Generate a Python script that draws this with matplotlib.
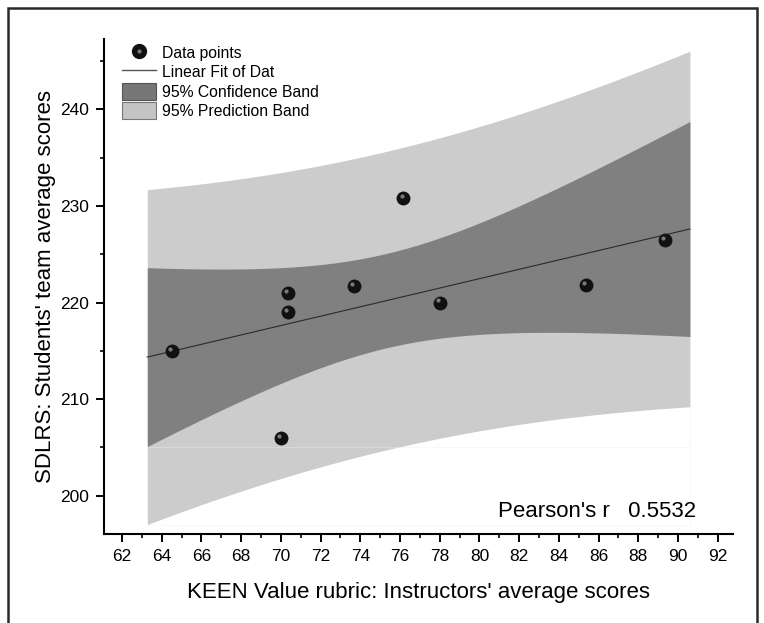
import matplotlib.pyplot as plt
import numpy as np
from matplotlib.lines import Line2D
from matplotlib.patches import Patch, Rectangle
from matplotlib.ticker import MultipleLocator
from matplotlib.transforms import offset_copy

plt.rcParams['font.family'] = ['Liberation Sans', 'DejaVu Sans']

# KEEN rubric (instructors) vs SDLRS (students' team) averages
keen_scores = np.array([64.5, 70.0, 70.34, 70.34, 73.67, 76.16, 78.01, 85.35, 89.34])
sdlrs_scores = np.array([215.0, 206.0, 219.0, 221.0, 221.7, 230.8, 220.0, 221.8, 226.5])
pearson_r = 0.5532

# range over which the fit and bands are drawn
fit_x_start, fit_x_end = 63.27, 90.6
t_crit = 2.3646  # two-sided 95 %, n - 2 = 7 dof

x_ticks = np.arange(62, 93, 2)
y_ticks = np.arange(200, 241, 10)

# least squares line + 95% confidence / prediction bands
n = len(keen_scores)
slope, intercept = np.polyfit(keen_scores, sdlrs_scores, 1)
resid = sdlrs_scores - (slope * keen_scores + intercept)
s = np.sqrt(np.sum(resid**2) / (n - 2))
x_mean = keen_scores.mean()
sxx = np.sum((keen_scores - x_mean) ** 2)

xf = np.linspace(fit_x_start, fit_x_end, 300)
yf = slope * xf + intercept
lev = (xf - x_mean) ** 2 / sxx
conf = t_crit * s * np.sqrt(1 / n + lev)
pred = t_crit * s * np.sqrt(1 + 1 / n + lev)

fig = plt.figure(figsize=(7.64, 6.23), dpi=100)
ax = fig.add_axes([104 / 764, 1 - 534 / 623, (733 - 104) / 764, (534 - 39) / 623])

ax.fill_between(xf, yf - pred, yf + pred, color="#cccccc", lw=0, zorder=1)
ax.fill_between(xf, yf - conf, yf + conf, color="#808080", lw=0, zorder=2)

# faint outline left over from the band fill
edge_kw = dict(color="#eeeeee", lw=0.6, alpha=0.45, zorder=2.5)
ax.plot([fit_x_start, fit_x_end], [yf[0] - conf[0]] * 2, **edge_kw)
ax.plot([fit_x_start, fit_x_end], [yf[0] - pred[0]] * 2, **edge_kw)
ax.plot([fit_x_end, fit_x_end], [yf[0] - pred[0], yf[-1] - pred[-1]], **edge_kw)

ax.plot(xf, yf, color="#2b2b2b", lw=0.8, zorder=3)

# shaded balls: dark body plus a small highlight up and to the left
ax.scatter(keen_scores, sdlrs_scores, s=100, color="#111111", zorder=4, lw=0)
hl = offset_copy(ax.transData, fig=fig, x=-1.2, y=1.6, units="points")
ax.scatter(keen_scores, sdlrs_scores, s=9, color="#7a7a7a", zorder=5, lw=0,
           transform=hl)

ax.set_xlim(61.09, 92.77)
ax.set_ylim(196.04, 247.3)
ax.set_xticks(x_ticks)
ax.set_yticks(y_ticks)
ax.xaxis.set_minor_locator(MultipleLocator(1))
ax.yaxis.set_minor_locator(MultipleLocator(5))

for side in ("top", "right"):
    ax.spines[side].set_visible(False)
for side in ("left", "bottom"):
    ax.spines[side].set_linewidth(1.5)
ax.tick_params(which="major", direction="out", length=5.8, width=1.4,
               labelsize=12.5, pad=5)
ax.tick_params(which="minor", direction="out", length=3, width=1.2)

ax.set_xlabel("KEEN Value rubric: Instructors' average scores", fontsize=16,
              labelpad=13)
ax.set_ylabel("SDLRS: Students' team average scores", fontsize=16,
              labelpad=3)

ax.text(0.941, 0.0455, f"Pearson's r   {pearson_r}", transform=ax.transAxes,
        ha="right", va="center", fontsize=16)

ball = Line2D([], [], ls="none", marker="o", ms=10, mfc="#111111", mec="#111111")
spot = Line2D([], [], ls="none", marker="o", ms=3, mfc="#7a7a7a", mec="none")
fit_handle = Line2D([], [], color="#555555", lw=1)
conf_handle = Patch(facecolor="#787676", edgecolor="#555555", lw=0.8)
pred_handle = Patch(facecolor="#c4c4c4", edgecolor="#777777", lw=0.8)
ax.legend([(ball, spot), fit_handle, conf_handle, pred_handle],
          ["Data points", "Linear Fit of Dat", "95% Confidence Band",
           "95% Prediction Band"],
          loc="upper left", bbox_to_anchor=(0.028, 0.989), frameon=False,
          fontsize=11.3, borderpad=0, borderaxespad=0, handlelength=2.2,
          handleheight=1.3, handletextpad=0.35, labelspacing=0.13)

# dark frame around the whole graph page
fig.patches.append(Rectangle((8 / 764, -0.05), (757 - 8) / 764, 1 - 7.5 / 623 + 0.05,
                             transform=fig.transFigure, fill=False, lw=1.8,
                             ec="#2a2a2a"))

fig.savefig("out.png", dpi=100)
